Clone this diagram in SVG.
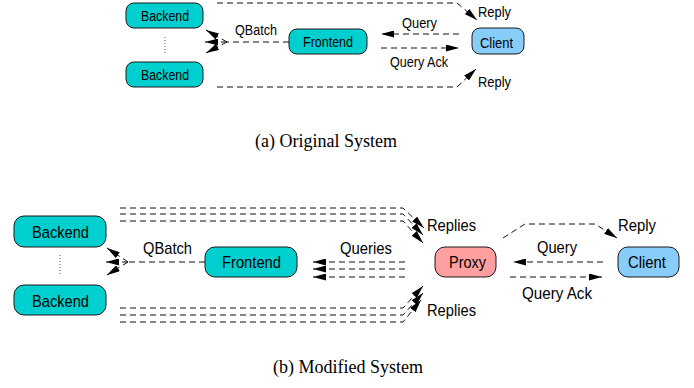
<svg xmlns="http://www.w3.org/2000/svg" width="694" height="388" viewBox="0 0 694 388">
<style>
.n{stroke:#1a1a1a;stroke-width:1}
.be{fill:#00cfcf}
.cl{fill:#88ccfa}
.px{fill:#ff9f9f}
text{font-family:"Liberation Sans",Arial,sans-serif;fill:#000}
.s{font-size:14px}
.b{font-size:17px}
.cap{font-family:"Liberation Serif","Times New Roman",serif;font-size:18px}
.d{fill:none;stroke:#111;stroke-width:1;stroke-dasharray:6 4}
.a{marker-end:url(#ah)}
.dot{fill:none;stroke:#555;stroke-width:1;stroke-dasharray:1 2}
</style>
<defs>
<marker id="ah" viewBox="0 0 13 7" refX="13" refY="3.5" markerWidth="13" markerHeight="7" orient="auto" markerUnits="userSpaceOnUse"><path d="M0,0 L13,3.5 L0,7 z" fill="#000"/></marker>
</defs>

<!-- (a) Original System -->
<g id="a-backend1"><rect class="n be" x="126" y="3" width="77" height="25" rx="8"/><text class="s" x="141" y="21" textLength="48" lengthAdjust="spacingAndGlyphs">Backend</text></g>
<g id="a-backend2"><rect class="n be" x="126" y="62" width="77" height="25" rx="8"/><text class="s" x="141" y="80" textLength="48" lengthAdjust="spacingAndGlyphs">Backend</text></g>
<g id="a-frontend"><rect class="n be" x="289" y="29" width="78" height="25" rx="8"/><text class="s" x="303" y="46.5" textLength="50" lengthAdjust="spacingAndGlyphs">Frontend</text></g>
<g id="a-client"><rect class="n cl" x="472" y="28" width="52" height="26" rx="8"/><text class="s" x="480" y="47.5" textLength="33" lengthAdjust="spacingAndGlyphs">Client</text></g>

<!-- (b) Modified System -->
<g id="b-backend1"><rect class="n be" x="14" y="216" width="92" height="31" rx="10"/><text class="b" x="32" y="238" textLength="57" lengthAdjust="spacingAndGlyphs">Backend</text></g>
<g id="b-backend2"><rect class="n be" x="14" y="285" width="92" height="30" rx="10"/><text class="b" x="32" y="307" textLength="57" lengthAdjust="spacingAndGlyphs">Backend</text></g>
<g id="b-frontend"><rect class="n be" x="205" y="247" width="92" height="30" rx="10"/><text class="b" x="222" y="268" textLength="59" lengthAdjust="spacingAndGlyphs">Frontend</text></g>
<g id="b-proxy"><rect class="n px" x="435" y="247" width="61" height="30" rx="10"/><text class="b" x="449" y="268" textLength="37" lengthAdjust="spacingAndGlyphs">Proxy</text></g>
<g id="b-client"><rect class="n cl" x="618" y="247" width="61" height="30" rx="10"/><text class="b" x="628" y="268" textLength="38" lengthAdjust="spacingAndGlyphs">Client</text></g>

<g id="connectors">
<!-- top -->
<path class="dot" d="M165,37 V53"/>
<path class="d" d="M289,42 H227"/>
<path class="d a" d="M227,42 L206,30"/>
<path class="d a" d="M227,42 L205,42"/>
<path class="d a" d="M227,42 L206,53"/>
<path class="d a" d="M459,34 H381"/>
<path class="d a" d="M381,48 H459"/>
<path class="d a" d="M217,3 H457 L477,20"/>
<path class="d a" d="M217,87 H457 L476,69"/>
<!-- bottom -->
<path class="dot" d="M60,255 V275"/>
<path class="d" d="M205,262 H128"/>
<path class="d a" d="M128,262 L107,248"/>
<path class="d a" d="M128,262 L106,262"/>
<path class="d a" d="M128,262 L107,275"/>
<path class="d a" d="M405,262 H313"/>
<path class="d a" d="M405,269 H313"/>
<path class="d a" d="M405,277 H313"/>
<path class="d a" d="M120,208 H403 L424,228"/>
<path class="d a" d="M120,214 H403 L423,235"/>
<path class="d a" d="M120,221 H403 L423,243"/>
<path class="d a" d="M120,308 H403 L423,286"/>
<path class="d a" d="M120,315 H403 L423,293"/>
<path class="d a" d="M120,322 H403 L421,300"/>
<path class="d a" d="M503,238 L525,224 H595 L617,238"/>
<path class="d a" d="M603,262 H513"/>
<path class="d a" d="M510,277 H602"/>
</g>

<g id="labels">
<text class="s" x="235" y="35" textLength="42" lengthAdjust="spacingAndGlyphs">QBatch</text>
<text class="s" x="402" y="28" textLength="35" lengthAdjust="spacingAndGlyphs">Query</text>
<text class="s" x="390" y="66.5" textLength="58" lengthAdjust="spacingAndGlyphs">Query Ack</text>
<text class="s" x="478" y="16.5" textLength="33" lengthAdjust="spacingAndGlyphs">Reply</text>
<text class="s" x="478" y="87" textLength="33" lengthAdjust="spacingAndGlyphs">Reply</text>
<text class="cap" x="255" y="146.5">(a) Original System</text>

<text class="b" x="143" y="254" textLength="49" lengthAdjust="spacingAndGlyphs">QBatch</text>
<text class="b" x="340" y="254" textLength="52" lengthAdjust="spacingAndGlyphs">Queries</text>
<text class="b" x="427" y="231" textLength="49" lengthAdjust="spacingAndGlyphs">Replies</text>
<text class="b" x="427" y="316" textLength="49" lengthAdjust="spacingAndGlyphs">Replies</text>
<text class="b" x="618" y="231" textLength="38" lengthAdjust="spacingAndGlyphs">Reply</text>
<text class="b" x="537" y="253" textLength="40" lengthAdjust="spacingAndGlyphs">Query</text>
<text class="b" x="522" y="299" textLength="70" lengthAdjust="spacingAndGlyphs">Query Ack</text>
<text class="cap" x="273" y="373">(b) Modified System</text>
</g>
</svg>
